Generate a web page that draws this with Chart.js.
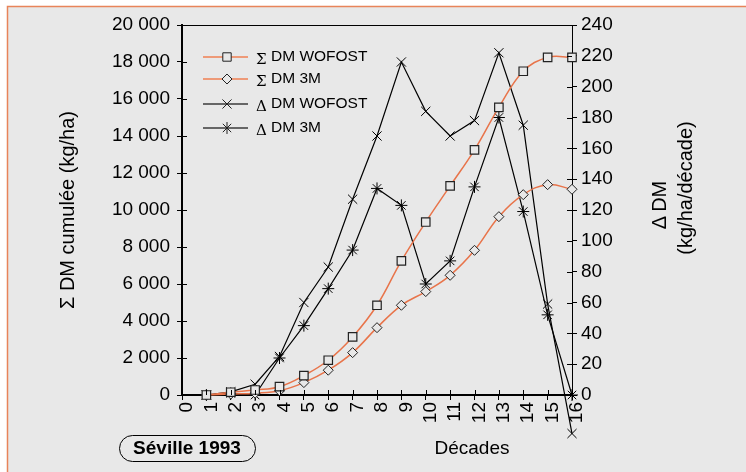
<!DOCTYPE html>
<html>
<head>
<meta charset="utf-8">
<script src="https://cdn.jsdelivr.net/npm/chart.js@4.4.1/dist/chart.umd.min.js"></script>
<style>
  html, body { margin: 0; padding: 0; background: #fff; }
  canvas { display: block; }
</style>
</head>
<body>
<canvas id="myChart" width="746" height="472"></canvas>
<script>
// décades 1..16, Séville 1993
const decades = [1, 2, 3, 4, 5, 6, 7, 8, 9, 10, 11, 12, 13, 14, 15, 16];
const sumWofost = [0, 150, 270, 450, 1050, 1880, 3140, 4850, 7250, 9350, 11300, 13250, 15550, 17500, 18250, 18250];
const sum3m = [0, 50, 100, 230, 670, 1340, 2290, 3640, 4850, 5590, 6470, 7820, 9640, 10830, 11370, 11120];
const deltaWofost = [0, 2, 7, 25, 60, 83, 127, 168, 216, 184, 168, 178, 222, 175, 59, -25];
const delta3m = [0, 1, 0, 24, 45, 69, 94, 134, 123, 72, 87, 135, 180, 119, 52, 0];
const seriesNames = ['DM WOFOST', 'DM 3M', 'DM WOFOST', 'DM 3M'];
const seriesSymbols = ['\u03A3', '\u03A3', '\u0394', '\u0394'];

const ORANGE = '#e8744a';
const FONT = "'Liberation Sans', Arial, sans-serif";

let toPoints = (vals) => decades.map((d, i) => ({x: d, y: vals[i]}));
let spaced = (v) => String(v).replace(/\B(?=(\d{3})+(?!\d))/g, ' ');

// background + frame
const framePlugin = {
  id: 'frame',
  beforeDraw(chart) {
    const ctx = chart.ctx;
    ctx.save();
    ctx.fillStyle = '#fff';
    ctx.fillRect(0, 0, chart.width, chart.height);
    ctx.fillStyle = '#e8e8e8';
    ctx.fillRect(7, 6, chart.width, chart.height);
    ctx.strokeStyle = '#e8845a';
    ctx.lineWidth = 1.5;
    ctx.beginPath();
    ctx.moveTo(7.5, chart.height + 2);
    ctx.lineTo(7.5, 6.5);
    ctx.lineTo(chart.width + 2, 6.5);
    ctx.stroke();
    ctx.restore();
  }
};

function drawMarker(ctx, style, x, y, r) {
  ctx.beginPath();
  if (style == 'rect') {
    ctx.rect(x - r * 0.7, y - r * 0.7, r * 1.4, r * 1.4);
    ctx.fill(); ctx.stroke();
  } else if (style == 'rectRot') {
    ctx.moveTo(x, y - r); ctx.lineTo(x + r, y); ctx.lineTo(x, y + r); ctx.lineTo(x - r, y);
    ctx.closePath();
    ctx.fill(); ctx.stroke();
  } else {
    let a = r * 0.7;
    ctx.moveTo(x - a, y - a); ctx.lineTo(x + a, y + a);
    ctx.moveTo(x - a, y + a); ctx.lineTo(x + a, y - a);
    if (style == 'star') { ctx.moveTo(x, y - r); ctx.lineTo(x, y + r); }
    ctx.stroke();
  }
}

const extrasPlugin = {
  id: 'extras',
  afterDraw(chart) {
    const ctx = chart.ctx;
    const area = chart.chartArea;
    const ys = chart.scales.y, yr = chart.scales.y1, xs = chart.scales.x;
    ctx.save();

    // top border of plot area
    ctx.strokeStyle = '#000';
    ctx.lineWidth = 1;
    ctx.beginPath();
    ctx.moveTo(area.left, area.top + 0.5);
    ctx.lineTo(area.right, area.top + 0.5);
    ctx.stroke();

    // inner halves of tick marks
    ctx.beginPath();
    ys.ticks.forEach(t => {
      let p = Math.round(ys.getPixelForValue(t.value)) + 0.5;
      ctx.moveTo(area.left, p); ctx.lineTo(area.left + 5, p);
    });
    yr.ticks.forEach(t => {
      let p = Math.round(yr.getPixelForValue(t.value)) + 0.5;
      ctx.moveTo(area.right - 5, p); ctx.lineTo(area.right, p);
    });
    xs.ticks.forEach(t => {
      let p = Math.round(xs.getPixelForValue(t.value)) + 0.5;
      ctx.moveTo(p, area.bottom - 5); ctx.lineTo(p, area.bottom);
    });
    ctx.stroke();

    // points that fall outside the plot area (chart.js skips them)
    chart.data.datasets.forEach((ds, i) => {
      chart.getDatasetMeta(i).data.forEach(pt => {
        if (pt.y > area.bottom + 2 || pt.y < area.top - 2) {
          ctx.strokeStyle = ds.pointBorderColor;
          ctx.fillStyle = '#e8e8e8';
          ctx.lineWidth = 1;
          drawMarker(ctx, ds.pointStyle, pt.x, pt.y, ds.pointRadius);
        }
      });
    });

    // legend
    const rows = [57, 79, 104, 128];
    chart.data.datasets.forEach((ds, i) => {
      let y = rows[i];
      ctx.strokeStyle = i < 2 ? '#ee9a78' : '#666';
      ctx.lineWidth = 2;
      ctx.beginPath();
      ctx.moveTo(203, y); ctx.lineTo(248, y);
      ctx.stroke();
      ctx.strokeStyle = '#222';
      ctx.fillStyle = '#e8e8e8';
      ctx.lineWidth = 1;
      drawMarker(ctx, ds.pointStyle, 227, y, ds.pointRadius);
      ctx.fillStyle = '#000';
      ctx.textBaseline = 'middle';
      ctx.textAlign = 'left';
      ctx.font = "15px 'DejaVu Serif', serif";
      ctx.fillText(seriesSymbols[i], 256, y + 3);
      ctx.font = '15.5px ' + FONT;
      ctx.fillText(seriesNames[i], 271, y);
    });

    // axis titles
    ctx.fillStyle = '#000';
    ctx.textAlign = 'center';
    ctx.textBaseline = 'middle';
    ctx.font = '19px ' + FONT;
    ctx.fillText('Décades', 472, 449);

    ctx.save();
    ctx.translate(68, 210);
    ctx.rotate(-Math.PI / 2);
    ctx.font = '20px ' + FONT;
    ctx.fillText('\u03A3 DM cumulée (kg/ha)', 0, 0);
    ctx.restore();

    ctx.save();
    ctx.translate(660, 205);
    ctx.rotate(-Math.PI / 2);
    ctx.font = '20px ' + FONT;
    ctx.fillText('\u0394\u2009DM', 0, 0);
    ctx.restore();

    ctx.save();
    ctx.translate(686, 188);
    ctx.rotate(-Math.PI / 2);
    ctx.font = '20px ' + FONT;
    ctx.fillText('(kg/ha/décade)', 0, 0);
    ctx.restore();

    // site label
    ctx.strokeStyle = '#000';
    ctx.lineWidth = 1;
    ctx.beginPath();
    ctx.roundRect(119.5, 435.5, 136, 26, 13);
    ctx.stroke();
    ctx.font = 'bold 19px ' + FONT;
    ctx.fillText('Séville 1993', 187, 449);

    ctx.restore();
  }
};

const chart = document.getElementById('myChart').getContext('2d');

const data = {
  datasets: [
    {
      label: '\u03A3 DM WOFOST',
      data: toPoints(sumWofost),
      yAxisID: 'y',
      borderColor: ORANGE,
      borderWidth: 1.5,
      tension: 0.4,
      pointStyle: 'rect',
      pointRadius: 6,
      pointBorderColor: '#222',
      pointBackgroundColor: '#e8e8e8',
      pointBorderWidth: 1.2,
      clip: false
    },
    {
      label: '\u03A3 DM 3M',
      data: toPoints(sum3m),
      yAxisID: 'y',
      borderColor: ORANGE,
      borderWidth: 1.5,
      tension: 0.4,
      pointStyle: 'rectRot',
      pointRadius: 5,
      pointBorderColor: '#222',
      pointBackgroundColor: '#e8e8e8',
      pointBorderWidth: 1,
      clip: false
    },
    {
      label: '\u0394 DM WOFOST',
      data: toPoints(deltaWofost),
      yAxisID: 'y1',
      borderColor: '#000',
      borderWidth: 1.2,
      tension: 0,
      pointStyle: 'crossRot',
      pointRadius: 6.5,
      pointBorderColor: '#000',
      pointBorderWidth: 1,
      clip: false
    },
    {
      label: '\u0394 DM 3M',
      data: toPoints(delta3m),
      yAxisID: 'y1',
      borderColor: '#000',
      borderWidth: 1.2,
      tension: 0,
      pointStyle: 'star',
      pointRadius: 6,
      pointBorderColor: '#000',
      pointBorderWidth: 1,
      clip: false
    }
  ]
};

const tickFont = {family: FONT, size: 19};

const options = {
  responsive: false,
  animation: false,
  layout: { padding: {top: 25, left: 0, right: 0, bottom: 0} },
  plugins: {
    legend: { display: false },
    tooltip: { enabled: false }
  },
  elements: { line: { fill: false } },
  scales: {
    x: {
      type: 'linear',
      min: 0,
      max: 16,
      afterFit: (s) => { s.height = 77; },
      ticks: {
        stepSize: 1,
        autoSkip: false,
        minRotation: 90,
        maxRotation: 90,
        labelOffset: 5,
        padding: 2,
        color: '#000',
        font: tickFont
      },
      grid: { drawOnChartArea: false, tickLength: 5, color: '#000' },
      border: { color: '#000', width: 2 }
    },
    y: {
      position: 'left',
      min: 0,
      max: 20000,
      afterFit: (s) => { s.width = 182; },
      ticks: {
        stepSize: 2000,
        padding: 7,
        color: '#000',
        font: tickFont,
        callback: (v) => spaced(v)
      },
      grid: { drawOnChartArea: false, tickLength: 5, color: '#000' },
      border: { color: '#000', width: 2 }
    },
    y1: {
      position: 'right',
      min: 0,
      max: 240,
      afterFit: (s) => { s.width = 174; },
      ticks: {
        stepSize: 20,
        padding: 4,
        color: '#000',
        font: tickFont
      },
      grid: { drawOnChartArea: false, tickLength: 5, color: '#000' },
      border: { color: '#000', width: 1 }
    }
  }
};

const config = {
  type: 'line',
  data,
  options,
  plugins: [framePlugin, extrasPlugin]
};

const myChart = new Chart(chart, config);
</script>
</body>
</html>
